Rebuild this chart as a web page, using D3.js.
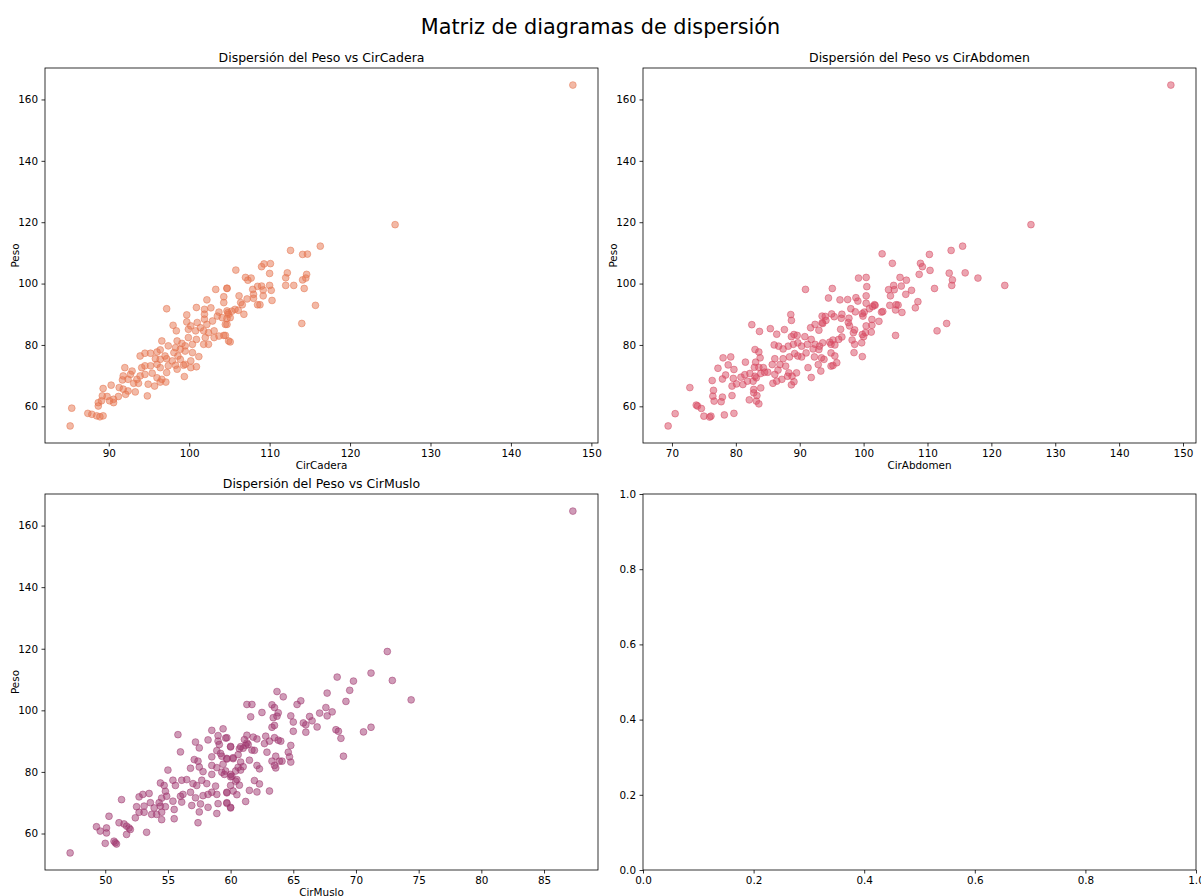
<!DOCTYPE html>
<html>
<head>
<meta charset="utf-8">
<script src="https://cdn.jsdelivr.net/npm/d3@7"></script>
<style>
  body { margin: 0; background: #fff; }
  text { font-family: "DejaVu Sans", sans-serif; fill: #000; }
</style>
</head>
<body>
<div id="chart"></div>
<script>
// Peso (kg) against three body circumferences (cm)
var caderaPeso = [
  [103.3,98.1],[104.7,98.5],[102.2,94.7],[104.3,95.7],[104.3,93.8],[97.2,91.8],[100.9,92.2],[101.9,91.6],[102.7,92.1],[103.7,90.7],
  [104.7,91.1],[104.9,90.0],[99.7,89.8],[101.9,90.0],[101.9,88.4],[102.9,87.8],[103.5,89.4],[104.1,88.9],[104.7,88.6],[104.5,86.7],
  [98.0,86.4],[99.7,87.5],[100.2,86.2],[101.0,87.3],[101.4,85.6],[102.2,86.7],[98.4,84.6],[99.9,85.1],[100.8,84.6],[101.8,84.6],
  [102.4,84.0],[103.1,84.6],[103.7,82.9],[104.3,83.1],[104.9,81.3],[96.6,81.3],[98.5,81.3],[99.1,80.5],[99.9,82.4],[100.9,81.8],
  [102.0,82.4],[102.4,80.2],[103.1,82.4],[97.4,79.7],[98.3,79.1],[98.9,78.6],[99.5,79.7],[100.4,80.2],[101.8,80.2],[93.9,76.4],
  [94.5,77.3],[95.2,77.3],[96.0,77.7],[96.4,78.4],[97.0,76.4],[98.1,77.5],[98.6,76.4],[99.5,78.0],[100.4,77.5],[101.2,76.2],
  [95.8,75.5],[96.4,75.3],[97.2,75.5],[97.9,74.8],[98.9,75.3],[99.5,73.7],[100.2,74.8],[100.9,72.9],[92.0,72.6],[92.9,71.5],
  [94.1,72.6],[94.5,73.2],[95.2,73.2],[96.0,73.7],[96.4,72.6],[97.4,73.2],[98.3,73.4],[99.3,73.4],[100.2,72.6],[91.8,69.9],
  [92.7,70.4],[93.5,68.8],[93.9,69.9],[94.5,70.4],[95.4,70.8],[96.0,69.3],[96.6,68.8],[97.2,71.0],[98.5,72.1],[99.4,69.7],
  [91.7,68.6],[92.4,68.8],[93.1,67.5],[93.7,67.5],[94.9,67.2],[95.7,66.6],[96.4,67.9],[97.1,67.9],[89.3,65.8],[90.3,66.9],
  [91.3,66.1],[91.8,65.6],[92.4,65.0],[93.3,64.7],[94.8,63.4],[89.2,63.4],[89.8,63.2],[90.6,62.3],[91.2,63.2],[92.1,63.9],
  [88.7,61.2],[89.1,61.8],[90.1,61.8],[90.6,61.2],[88.7,60.1],[85.4,59.4],[87.4,57.7],[87.9,57.4],[88.5,56.9],[88.9,56.6],
  [89.3,56.9],[85.2,53.6],
  [116.3,112.2],[112.6,110.8],[114.1,109.5],[114.7,109.6],[110.1,106.5],[109.3,106.4],[109.0,105.5],[105.8,104.4],[112.2,103.5],[110.0,103.3],
  [112.0,101.9],[114.6,103.0],[114.5,101.8],[114.1,101.2],[107.0,102.0],[107.3,101.1],[107.7,101.8],[104.7,98.4],[108.5,99.1],[109.0,99.2],
  [109.2,97.9],[107.9,98.1],[110.2,97.8],[110.0,99.4],[112.0,99.4],[113.0,99.4],[114.3,98.4],[106.2,96.0],[108.0,96.5],[109.2,96.0],
  [110.3,94.5],[108.0,95.2],[107.2,95.0],[106.4,93.8],[106.6,93.1],[108.5,93.1],[108.8,93.1],[115.7,92.9],[114.0,87.0],[105.7,91.6],
  [106.1,91.3],[105.3,91.0],[104.8,90.5],[105.1,88.9],[106.8,90.0],[104.7,86.7],[104.5,83.1],[105.1,81.0],
  [125.6,119.2],[147.7,164.7]
];

var abdomenPeso = [
  [90.9,98.1],[88.6,89.9],[88.7,88.0],[82.5,86.6],[83.7,84.4],[85.4,85.3],[87.6,85.0],[86.4,83.5],
  [88.7,82.7],[89.1,83.4],[89.6,83.1],[90.8,82.7],[91.7,85.6],[92.4,86.7],[93.0,84.8],[93.6,87.0],[93.5,89.4],
  [86.0,80.0],[86.7,79.6],[87.4,78.7],[88.2,79.6],[89.0,80.2],[89.7,80.7],[90.3,79.6],[91.2,80.2],[91.8,81.8],[92.4,80.2],[93.1,79.6],[93.6,80.7],
  [83.0,78.5],[83.6,77.7],[86.1,75.5],[87.4,75.5],[88.4,76.1],[89.2,77.2],[89.7,76.4],[90.3,76.1],[91.0,77.4],[92.1,78.7],[93.0,78.5],[92.3,76.1],[93.4,75.8],
  [78.0,75.8],[79.2,76.1],[81.5,74.4],[83.1,74.4],[83.8,75.8],[78.8,73.5],[79.7,72.0],
  [82.9,72.7],[83.6,72.7],[84.3,72.6],[85.0,71.1],[85.7,73.6],[86.9,73.6],[87.8,73.1],[88.3,70.9],[89.5,70.9],[91.3,72.6],[92.9,73.6],[93.3,71.5],[91.8,69.4],
  [77.2,72.4],[78.4,70.2],[77.9,68.9],[79.6,69.1],[80.8,69.5],[81.4,70.3],[82.2,70.7],[83.0,69.8],[83.9,70.7],[84.5,71.1],[86.1,70.4],[86.6,71.8],[88.1,69.8],[88.8,69.8],[88.7,67.0],[89.1,68.0],
  [76.3,68.4],[80.1,67.3],[81.1,67.1],[81.8,68.2],[82.7,68.2],[83.2,69.3],[83.9,66.0],[85.8,67.5],[86.4,68.2],[87.2,68.8],
  [76.5,65.2],[76.4,63.3],[77.9,63.0],[79.4,66.6],[79.4,63.5],[82.8,64.4],[83.3,63.5],[82.8,65.5],[82.1,62.1],[83.2,61.7],[83.6,60.8],
  [76.6,61.7],[77.7,61.5],[72.8,66.1],[73.8,60.4],[74.0,60.1],[74.6,59.3],[70.5,57.6],[75.0,56.8],[75.9,56.5],[76.1,56.8],[78.2,57.2],[79.7,57.7],[69.4,53.6],
  [126.2,119.2],[102.9,109.7],[115.5,112.2],[113.7,110.8],[110.3,109.5],[104.5,106.6],[108.9,106.6],[109.2,105.5],[110.4,104.3],[108.7,103.0],
  [113.4,103.4],[115.9,103.5],[113.9,101.2],[113.8,99.4],[117.9,101.8],[122.1,99.4],[95.1,98.4],[94.5,95.3],
  [99.2,101.8],[100.4,102.0],[100.5,99.0],[105.7,102.0],[106.7,101.1],[103.9,98.0],[104.7,99.4],[104.8,98.0],[105.9,99.2],[107.5,97.8],[106.6,96.5],[104.2,96.0],[111.1,98.4],
  [96.3,94.7],[97.5,94.8],[98.8,95.4],[99.1,94.3],[100.4,96.0],[100.4,93.6],[101.7,93.1],[102.8,90.7],[103.0,90.9],[104.1,92.9],[105.1,93.1],[105.4,93.0],[105.0,91.4],[106.0,90.6],[108.5,94.1],[108.1,92.1],
  [98.0,91.8],[98.7,90.8],[99.8,90.2],[99.9,89.4],[100.9,91.8],[101.4,92.5],[101.8,92.9],[102.4,87.7],[101.3,88.3],[100.1,90.7],
  [94.0,89.3],[95.4,89.2],[95.0,90.1],[96.5,88.7],[96.6,90.0],[97.7,88.7],[97.6,87.3],[97.8,86.2],[98.6,84.9],[100.4,86.2],[101.3,86.4],[101.2,84.2],[100.3,84.0],[99.8,83.4],[100.0,82.7],[99.7,80.7],[98.6,80.2],[98.5,77.5],[99.8,76.2],
  [93.5,87.2],[94.1,88.0],[96.4,85.1],[96.6,82.6],[96.1,81.8],[95.2,81.6],[94.7,80.9],[94.9,80.2],[95.5,80.0],[98.2,81.6],[98.4,84.0],[105.0,83.1],[111.5,84.6],[113.0,87.0],
  [94.9,77.4],[95.5,76.4],[93.8,75.3],[95.2,73.3],[95.8,74.2],[94.9,73.1],
  [148.1,164.7]
];

var musloPeso = [
  [47.2,53.7],[55.8,92.1],[56.0,86.5],
  [58.5,93.5],[59.4,94.0],[59.0,91.8],[59.6,91.0],[58.2,90.4],[57.2,89.7],[57.5,87.8],[59.0,90.0],[59.1,88.9],[60.0,88.1],[58.9,86.9],[59.2,86.0],
  [57.1,84.0],[57.4,83.5],[58.5,84.9],[59.3,85.1],[59.7,84.2],[60.2,84.6],[56.8,81.2],[57.5,81.6],[57.8,80.1],[58.5,82.1],[58.9,81.4],[59.4,82.5],[59.3,79.9],[59.5,79.2],[60.0,78.4],[58.5,79.2],[55.0,80.6],
  [54.4,76.4],[54.7,75.6],[55.4,77.3],[55.6,75.6],[56.1,77.3],[56.5,77.5],[57.0,76.2],[57.3,75.6],[57.7,77.3],[58.1,76.2],[58.8,75.4],[59.7,73.2],[60.0,75.6],[60.4,77.0],
  [52.7,71.9],[53.0,72.7],[53.5,73.0],[54.5,71.5],[54.8,73.7],[54.9,72.1],[56.0,72.1],[56.2,72.7],[56.8,73.4],[57.2,71.6],[57.8,72.3],[58.2,72.7],[58.9,72.7],[58.5,73.4],
  [51.3,71.0],[52.5,68.7],[53.1,68.9],[53.6,70.0],[53.9,68.3],[54.3,70.0],[54.4,68.9],[54.8,68.7],[55.4,70.5],[56.1,70.2],[56.9,69.1],[57.6,69.6],[58.2,68.5],[59.0,69.7],[59.7,70.0],[60.0,68.3],
  [50.3,65.6],[52.4,65.1],[52.7,66.9],[53.1,66.9],[53.7,66.2],[54.1,66.2],[54.5,66.9],[54.5,64.5],[55.5,67.8],[55.5,64.8],[57.5,67.0],[58.9,66.5],[57.4,63.5],
  [49.3,62.2],[49.6,60.8],[50.1,61.8],[50.1,60.2],[51.1,63.5],[51.5,63.1],[51.9,61.8],[52.0,61.3],[51.7,59.7],[53.3,60.4],
  [50.0,56.8],[50.7,57.5],[50.8,57.0],[50.9,56.6],[51.7,62.4],
  [72.5,119.1],[71.2,112.1],[72.9,109.7],[68.5,110.8],[69.8,109.5],[74.4,103.4],[69.5,106.5],[69.2,102.9],[67.7,105.6],
  [63.7,106.1],[64.2,104.4],[61.3,101.9],[61.7,101.9],[63.3,101.8],[62.5,99.3],[61.6,97.9],[63.5,100.9],[63.8,99.2],[63.4,97.6],
  [63.7,98.1],[65.3,101.9],[65.6,103.1],[64.8,98.2],[65.0,96.2],[65.8,95.9],[66.3,98.0],[66.5,96.6],[66.0,95.3],[65.0,93.2],
  [66.0,92.9],[67.1,99.1],[67.6,100.9],[67.7,98.2],[68.1,99.5],[66.9,94.6],[68.4,93.7],[68.6,93.2],[68.8,90.9],[70.6,93.0],
  [71.2,94.5],[69.0,85.1],
  [63.3,94.5],[63.5,95.1],[63.8,90.3],[64.0,90.0],[63.5,91.1],[62.8,91.6],[63.1,90.0],[62.7,89.2],[62.9,86.4],[63.6,85.1],
  [64.8,88.6],[64.6,86.4],[64.7,84.9],[64.8,83.2],[63.9,83.5],[64.1,83.5],[63.5,82.1],[63.6,81.3],[63.3,83.5],[63.1,73.8],
  [62.3,81.0],[62.1,82.1],[62.3,76.1],[61.9,77.2],[62.1,73.5],[61.5,74.0],[61.2,70.4],[60.7,75.7],[60.5,72.6],[60.2,73.8],
  [60.0,68.5],[59.7,73.4],[59.7,69.8],[61.5,83.8],[61.9,87.0],[61.7,87.1],[61.3,91.9],[61.8,91.3],[62.1,90.7],[61.3,89.4],
  [61.1,90.5],[61.2,88.6],[61.4,88.9],[61.0,87.7],[60.7,87.5],[60.8,88.2],[60.0,88.3],[60.6,85.6],[60.2,84.3],[59.7,84.4],
  [60.8,83.2],[60.6,81.5],[61.0,81.7],[60.4,80.3],[60.8,80.6],[60.1,78.6],[60.0,79.2],[59.6,80.3],[59.7,91.1],[60.5,77.5],
  [87.3,164.7]
];

var titulo = "Matriz de diagramas de dispersión";

var W = 1201, H = 896;
var svg = d3.select("#chart").append("svg")
  .attr("width", W).attr("height", H);
svg.append("rect").attr("width", W).attr("height", H).attr("fill", "#fff");

svg.append("text")
  .attr("x", 600.5).attr("y", 34)
  .attr("text-anchor", "middle")
  .style("font-size", "20.8px")
  .text(titulo);

// 5% padding like matplotlib's default margins
function padded(ext) {
  var p = (ext[1] - ext[0]) * 0.05;
  return [ext[0] - p, ext[1] + p];
}

function styleAxis(g) {
  g.select(".domain").remove();
  g.selectAll(".tick line").attr("stroke", "#000").attr("stroke-width", 0.8);
  g.selectAll(".tick text")
    .style("font-family", "DejaVu Sans")
    .style("font-size", "10.4px")
    .attr("fill", "#000");
}

function panel(box, x, y, xTicks, yTicks, fmt) {
  var g = svg.append("g");
  g.append("g")
    .attr("transform", "translate(0," + (box.y + box.h) + ")")
    .call(d3.axisBottom(x).ticks(xTicks, fmt).tickSize(3.5).tickPadding(3))
    .call(styleAxis);
  g.append("g")
    .attr("transform", "translate(" + box.x + ",0)")
    .call(d3.axisLeft(y).ticks(yTicks, fmt).tickSize(3.5).tickPadding(3.5))
    .call(styleAxis);
  return g;
}

function scatter(box, data, color, title, xlab, xTicks) {
  var x = d3.scaleLinear()
    .domain(padded(d3.extent(data, function(d) { return d[0]; })))
    .range([box.x, box.x + box.w]);
  var y = d3.scaleLinear()
    .domain(padded(d3.extent(data, function(d) { return d[1]; })))
    .range([box.y + box.h, box.y]);

  var g = panel(box, x, y, xTicks, 6);

  g.append("g")
    .selectAll("circle")
    .data(data)
    .enter()
    .append("circle")
      .attr("cx", function(d) { return x(d[0]); })
      .attr("cy", function(d) { return y(d[1]); })
      .attr("r", 3.4)
      .attr("fill", color)
      .attr("fill-opacity", 0.5)
      .attr("stroke", color)
      .attr("stroke-opacity", 0.5)
      .attr("stroke-width", 1);

  g.append("rect")
    .attr("x", box.x).attr("y", box.y)
    .attr("width", box.w).attr("height", box.h)
    .attr("fill", "none").attr("stroke", "#000").attr("stroke-width", 0.8);

  g.append("text")
    .attr("x", box.x + box.w / 2).attr("y", box.y - 6.5)
    .attr("text-anchor", "middle")
    .style("font-size", "12.5px")
    .text(title);

  g.append("text")
    .attr("x", box.x + box.w / 2).attr("y", box.y + box.h + 26)
    .attr("text-anchor", "middle")
    .style("font-size", "10.4px")
    .text(xlab);

  g.append("text")
    .attr("transform", "translate(" + (box.x - 26) + "," + (box.y + box.h / 2) + ") rotate(-90)")
    .attr("text-anchor", "middle")
    .style("font-size", "10.4px")
    .text("Peso");
}

var boxTL = {x: 45, y: 68, w: 553, h: 375},
    boxTR = {x: 643, y: 68, w: 553, h: 375},
    boxBL = {x: 45, y: 494, w: 553, h: 376},
    boxBR = {x: 643, y: 494, w: 553, h: 376};

scatter(boxTL, caderaPeso, "#e5744e", "Dispersión del Peso vs CirCadera", "CirCadera", 7);
scatter(boxTR, abdomenPeso, "#d74a62", "Dispersión del Peso vs CirAbdomen", "CirAbdomen", 10);
scatter(boxBL, musloPeso, "#a0386f", "Dispersión del Peso vs CirMuslo", "CirMuslo", 10);

// empty fourth panel
var xe = d3.scaleLinear().domain([0, 1]).range([boxBR.x, boxBR.x + boxBR.w]);
var ye = d3.scaleLinear().domain([0, 1]).range([boxBR.y + boxBR.h, boxBR.y]);
var ge = panel(boxBR, xe, ye, 5, 5, ".1f");
ge.append("rect")
  .attr("x", boxBR.x).attr("y", boxBR.y)
  .attr("width", boxBR.w).attr("height", boxBR.h)
  .attr("fill", "none").attr("stroke", "#000").attr("stroke-width", 0.8);
</script>
</body>
</html>
